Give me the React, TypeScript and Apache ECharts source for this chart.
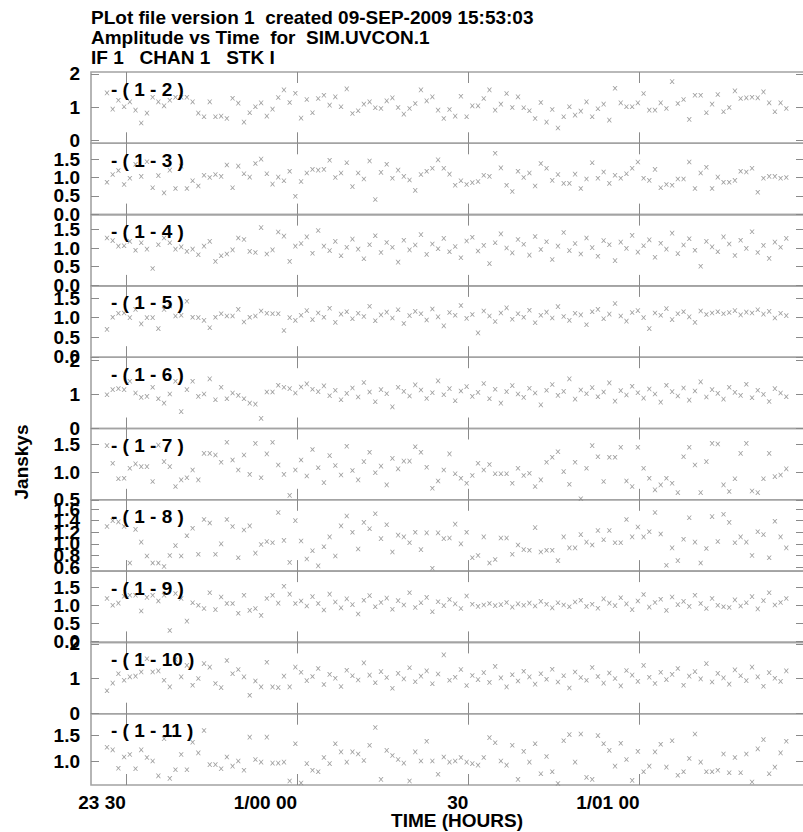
import React, { useEffect, useRef } from "react";
import * as echarts from "echarts";

// ---------- text ----------
const TITLE_LINES = [
  "PLot file version 1  created 09-SEP-2009 15:53:03",
  "Amplitude vs Time  for  SIM.UVCON.1",
  "IF 1   CHAN 1   STK I",
];
const Y_TITLE = "Janskys";
const X_TITLE = "TIME (HOURS)";

// ---------- time axis (minutes relative to 1/00 00) ----------
const X_MIN = -36.1;
const X_MAX = 88.8;
const X_TICKS = [-30, 0, 30, 60];
const X_TICK_LABELS = ["23 30", "1/00 00", "30", "1/01 00"];
const SAMPLE_START = -33.3; // first integration, one per minute
const SAMPLE_STEP = 1;

// ---------- panels ----------
const BASELINES = ["1 - 2", "1 - 3", "1 - 4", "1 - 5", "1 - 6", "1 - 7", "1 - 8", "1 - 9", "1 - 10", "1 - 11"];
const Y_MIN = [-0.09, -0.01, -0.02, -0.01, -0.01, 0.5, 0.53, -0.03, -0.01, 0.53];
const Y_MAX = [2.06, 1.93, 1.9, 1.81, 2.1, 1.79, 1.76, 1.95, 2.04, 1.93];
const Y_TICKS = [
  [0, 1, 2],
  [0, 0.5, 1, 1.5],
  [0, 0.5, 1, 1.5],
  [0, 0.5, 1, 1.5],
  [0, 1, 2],
  [0.5, 1, 1.5],
  [0.6, 0.8, 1, 1.2, 1.4, 1.6],
  [0, 0.5, 1, 1.5],
  [0, 1, 2],
  [1, 1.5],
];
const Y_DECIMALS = [0, 1, 1, 1, 0, 1, 1, 1, 0, 1];

// ---------- amplitudes (Jy), one per integration ----------
const AMP_1_2 = [
  1.43, 0.94, 1.21, 1.01, 1.16, 0.91, 0.52, 0.82, 1.3, 1.16,
  1.04, 1.21, 1.3, 1.3, 1.3, 1.16, 0.82, 0.71, 1.16, 0.71,
  0.73, 0.66, 1.27, 1.12, 0.55, 0.83, 1.01, 1.13, 0.73, 0.94,
  1.29, 1.52, 1.14, 1.42, 0.67, 1.23, 0.83, 1.26, 1.36, 1.06,
  1.31, 1.01, 1.55, 0.81, 0.89, 1.09, 1.16, 0.98, 0.96, 1.19,
  1.28, 0.99, 0.79, 0.96, 1.11, 1.52, 1.19, 1.31, 0.91, 0.66,
  0.93, 0.73, 1.33, 0.71, 1.04, 1.04, 1.26, 1.52, 0.91, 1.09,
  1.41, 0.99, 1.31, 0.98, 0.89, 0.66, 1.14, 0.55, 0.93, 0.37,
  0.71, 1.01, 0.76, 0.88, 1.16, 0.71, 0.95, 1.09, 0.61, 1.57,
  1.13, 1.01, 1.01, 1.13, 1.41, 0.91, 0.91, 1.13, 0.96, 1.77,
  1.11, 1.23, 0.63, 1.36, 1.36, 0.83, 1.09, 1.38, 0.86, 0.99,
  1.49, 1.26, 1.28, 1.3, 1.28, 1.46, 1.13, 0.86, 1.13, 0.96,
];
const AMP_1_3 = [
  0.87, 1.08, 1.19, 0.81, 0.98, 1.36, 1.03, 1.43, 0.72, 1.05,
  0.58, 1.2, 0.7, 1.31, 0.7, 0.91, 0.77, 1.06, 1.0, 1.08,
  1.03, 1.34, 0.72, 1.31, 1.1, 1.01, 1.38, 1.5, 1.1, 0.82,
  1.01, 0.91, 1.17, 0.49, 0.89, 1.12, 1.22, 1.2, 1.22, 1.47,
  1.0, 1.12, 1.4, 0.75, 1.12, 0.96, 1.45, 0.4, 1.14, 1.36,
  0.98, 1.2, 1.03, 0.93, 0.65, 1.08, 1.17, 1.25, 1.48, 1.25,
  1.09, 0.79, 0.91, 0.81, 0.86, 0.89, 1.06, 1.03, 1.66, 1.26,
  0.79, 0.62, 1.17, 1.0, 1.12, 0.77, 1.38, 1.25, 0.92, 1.08,
  0.84, 0.84, 1.09, 0.7, 0.96, 1.4, 0.98, 1.15, 0.84, 1.06,
  0.98, 1.1, 1.25, 1.42, 0.98, 0.92, 1.22, 0.72, 0.81, 0.79,
  0.96, 0.96, 1.42, 0.7, 1.12, 1.28, 0.7, 1.01, 0.87, 0.87,
  0.92, 1.17, 1.15, 1.25, 0.6, 0.98, 1.03, 1.03, 0.98, 1.0,
];
const AMP_1_4 = [
  1.27, 1.2, 1.05, 1.06, 1.18, 0.94, 1.14, 0.97, 0.45, 1.09,
  1.27, 1.14, 0.97, 1.03, 0.91, 0.97, 0.82, 1.05, 1.18, 0.64,
  0.79, 0.84, 0.95, 1.27, 1.23, 0.91, 0.88, 1.55, 0.84, 0.95,
  1.43, 1.32, 0.64, 1.05, 1.12, 1.3, 0.86, 1.47, 1.05, 0.93,
  1.18, 0.79, 1.02, 1.24, 0.97, 0.71, 1.09, 1.33, 0.88, 1.15,
  1.02, 0.62, 1.21, 0.95, 1.08, 1.36, 0.83, 1.11, 0.98, 1.26,
  0.9, 1.04, 0.74, 1.19, 1.29, 0.92, 1.07, 0.58, 1.14, 1.38,
  1.0, 0.87, 1.23, 1.1, 0.81, 1.31, 0.96, 1.17, 0.69, 1.05,
  1.42, 0.93, 1.12, 0.84, 1.27, 1.01, 0.78, 1.2, 1.09, 0.66,
  1.16, 0.99, 1.34, 0.89, 1.06, 1.22, 0.75, 1.13, 0.97, 1.4,
  0.85, 1.08, 1.25, 0.94, 0.51, 1.18, 1.03, 0.9, 1.3, 1.11,
  0.8, 1.21, 0.99, 1.44, 0.88, 1.07, 0.72, 1.16, 1.02, 1.26,
];
const AMP_1_5 = [
  0.7, 1.01, 1.11, 1.12, 1.0, 1.21, 0.84, 1.0, 1.0, 0.72,
  1.21, 1.3, 1.04, 1.06, 1.42, 1.01, 1.0, 0.93, 0.74, 1.01,
  1.1, 1.04, 1.04, 1.21, 0.89, 1.01, 1.04, 1.17, 1.11, 1.1,
  1.1, 0.67, 1.0, 0.93, 1.06, 1.18, 0.95, 1.12, 1.01, 1.24,
  0.88, 1.09, 1.15, 0.97, 1.11, 1.03, 1.29, 0.92, 1.07, 1.14,
  0.99, 1.2, 0.85, 1.05, 1.16, 1.1, 0.94, 1.22, 1.02, 0.79,
  1.13, 1.06, 1.31, 0.98, 1.08, 0.61, 1.17, 1.04, 0.9, 1.12,
  1.25, 0.96, 1.1, 1.01, 1.19, 0.87, 1.06, 1.14, 0.99, 1.28,
  1.03, 0.93, 1.11, 1.07, 0.82, 1.15, 1.21, 0.97, 1.09, 1.36,
  1.04, 0.91, 1.13, 1.18, 1.0, 0.72, 1.12, 1.06, 1.23, 0.95,
  1.1, 1.15, 1.02, 0.88, 1.17, 1.08, 1.12, 1.15, 1.1, 1.13,
  1.18, 1.07, 1.14, 1.12, 1.2, 1.09, 1.16, 0.99, 1.11, 1.05,
];
const AMP_1_6 = [
  0.99, 1.14, 1.17, 1.14, 1.39, 1.04, 0.91, 0.94, 1.21, 0.87,
  0.74, 1.01, 1.39, 0.49, 1.14, 1.39, 0.94, 1.01, 1.46, 0.84,
  1.21, 0.87, 1.04, 0.97, 0.87, 0.74, 0.71, 0.29, 1.07, 1.07,
  1.27, 1.21, 1.17, 1.04, 1.22, 1.31, 1.15, 1.08, 1.25, 0.96,
  1.12, 0.84, 1.03, 1.19, 0.92, 1.35, 1.07, 0.78, 1.14, 1.02,
  0.63, 1.21, 1.09, 0.95, 1.28, 1.13, 0.88, 1.05, 1.4, 0.99,
  1.17, 0.81, 1.1, 1.23, 0.94, 1.06, 1.32, 0.87, 1.15, 0.74,
  1.08, 1.26, 1.01, 0.91, 1.18, 1.04, 0.69, 1.12, 1.29, 0.97,
  1.09, 1.46, 0.86, 1.13, 1.02, 1.2, 0.93, 1.07, 1.34, 0.8,
  1.11, 0.98, 1.24, 1.05, 0.89, 1.16, 1.01, 0.77, 1.27, 1.08,
  0.95, 1.19, 0.83, 1.1, 1.37, 0.92, 1.14, 1.03, 0.86, 1.21,
  1.06, 0.97, 1.3, 0.9, 1.12, 1.0, 0.79, 1.17, 1.04, 0.93,
];
const AMP_1_7 = [
  1.48, 1.16, 0.88, 0.89, 1.07, 1.15, 1.1, 1.1, 0.83, 1.49,
  1.19, 1.1, 0.74, 0.86, 0.9, 1.04, 0.86, 1.34, 1.34, 1.31,
  1.18, 1.54, 1.22, 1.04, 1.31, 0.96, 1.52, 0.9, 1.33, 1.54,
  1.13, 0.96, 0.58, 1.04, 1.22, 0.93, 1.41, 1.08, 0.81, 1.3,
  1.12, 0.95, 1.47, 1.03, 0.86, 1.19, 1.36, 0.99, 1.11, 0.77,
  1.25, 1.06, 1.2, 1.2, 1.46, 1.36, 1.09, 0.71, 0.84, 1.04,
  1.33, 0.97, 0.89, 0.8, 0.94, 1.16, 1.04, 1.14, 0.97, 0.97,
  0.97, 0.8, 1.07, 0.94, 0.98, 0.74, 0.86, 1.18, 1.27, 1.37,
  1.01, 0.78, 1.18, 0.52, 1.07, 1.48, 1.28, 0.83, 1.27, 1.27,
  1.45, 0.84, 0.74, 1.45, 1.07, 0.89, 0.68, 0.77, 0.89, 0.8,
  0.63, 1.28, 1.45, 1.13, 0.63, 1.19, 1.52, 1.51, 0.77, 0.65,
  0.88, 1.34, 1.52, 0.66, 0.63, 0.88, 1.34, 0.92, 0.95, 1.06,
];
const AMP_1_8 = [
  1.3, 1.4, 1.38, 1.3, 0.67, 1.25, 1.03, 0.79, 0.67, 0.67,
  0.61, 0.8, 0.97, 0.79, 1.14, 1.27, 0.82, 1.42, 1.36, 0.82,
  1.0, 1.42, 1.3, 0.76, 1.24, 1.31, 0.84, 0.99, 1.04, 1.02,
  1.54, 1.06, 0.68, 1.4, 1.05, 0.74, 0.88, 0.62, 0.95, 1.12,
  0.79, 1.31, 1.48, 1.2, 0.91, 1.37, 1.26, 1.52, 1.09, 1.33,
  0.86, 1.15, 1.12, 1.02, 1.2, 0.9, 1.19, 0.58, 1.19, 1.09,
  1.1, 1.34, 1.0, 1.2, 0.76, 0.8, 1.12, 0.67, 0.73, 1.1,
  1.1, 0.82, 0.98, 0.9, 0.89, 1.28, 0.86, 0.89, 0.89, 0.71,
  1.12, 0.93, 0.93, 1.16, 1.03, 0.98, 1.23, 1.07, 1.23, 1.02,
  1.02, 1.42, 1.12, 1.29, 1.12, 1.21, 1.54, 1.17, 0.63, 0.93,
  0.71, 1.08, 1.45, 1.03, 0.67, 0.92, 1.47, 1.04, 1.51, 1.37,
  1.02, 1.12, 1.03, 0.8, 1.21, 1.16, 0.76, 1.39, 1.12, 0.93,
];
const AMP_1_9 = [
  1.19, 1.0, 1.06, 1.25, 1.28, 1.28, 0.84, 1.22, 1.28, 1.12,
  1.28, 0.3, 1.33, 1.19, 0.56, 1.07, 1.0, 0.91, 1.35, 0.88,
  1.23, 1.05, 1.05, 0.78, 1.28, 0.86, 0.91, 0.72, 1.19, 1.28,
  1.06, 1.53, 1.31, 1.05, 1.12, 0.98, 1.24, 1.05, 0.87, 1.31,
  1.09, 0.93, 1.18, 1.02, 0.76, 1.14, 1.27, 0.96, 1.08, 1.2,
  0.89, 1.13, 1.01, 1.35, 0.94, 1.07, 1.22, 0.82, 1.1, 0.99,
  1.16, 1.04, 0.91, 1.26, 1.03, 0.97, 1.01, 1.05, 0.99, 1.02,
  1.08, 0.95, 1.04, 1.0, 1.06, 0.98, 1.11, 1.03, 0.93, 1.07,
  1.01, 0.96, 1.09, 1.14, 0.97, 1.03, 0.92, 1.18, 1.06, 0.99,
  1.21, 1.04, 0.88, 1.12, 1.3, 0.95, 1.08, 1.17, 0.86, 1.23,
  1.02, 1.11, 0.97, 1.28, 1.05, 0.91, 1.19, 1.0, 0.96, 0.94,
  1.15, 0.98, 1.07, 1.24, 0.9, 1.13, 1.35, 1.01, 1.08, 1.19,
];
const AMP_1_10 = [
  0.65, 0.87, 1.14, 0.95, 1.05, 1.07, 1.19, 1.57, 1.19, 1.22,
  0.95, 0.76, 1.55, 1.05, 1.38, 0.81, 1.0, 1.43, 1.33, 0.86,
  0.74, 1.52, 1.14, 1.26, 1.05, 0.52, 0.93, 0.76, 1.47, 0.76,
  0.74, 1.07, 0.76, 1.33, 1.18, 0.94, 1.06, 1.29, 0.83, 1.12,
  1.01, 0.77, 1.24, 1.08, 0.96, 1.45, 1.1, 0.88, 1.2, 1.03,
  0.72, 1.15, 0.99, 1.31, 0.91, 1.07, 1.22, 0.85, 1.13, 1.68,
  0.95, 1.04, 1.26, 0.8, 1.09, 0.97, 1.17, 0.89, 1.35, 1.02,
  0.76, 1.11, 0.93, 1.21, 1.05, 0.84, 1.14, 0.98, 1.27, 0.9,
  1.08, 0.73, 1.19, 1.03, 0.95, 1.32, 1.06, 0.87, 1.16, 1.0,
  0.79, 1.23, 1.1, 0.92, 1.38, 1.04, 0.86, 1.18, 0.97, 1.12,
  1.29, 0.81, 1.07, 1.2, 0.99, 1.43, 0.9, 1.15, 1.02, 0.84,
  1.25, 1.08, 0.94, 1.33, 1.05, 0.78, 1.17, 1.01, 0.92, 1.22,
];
const AMP_1_11 = [
  1.27, 1.22, 0.86, 1.08, 1.13, 0.85, 1.22, 1.07, 1.0, 0.71,
  1.44, 0.66, 0.83, 1.13, 0.83, 1.37, 1.16, 1.6, 0.93, 0.93,
  0.85, 1.08, 0.9, 1.0, 0.82, 1.47, 1.03, 0.98, 1.47, 0.96,
  0.96, 0.98, 0.61, 1.34, 0.57, 0.95, 0.82, 0.79, 1.07, 0.95,
  1.34, 1.18, 0.98, 1.18, 1.14, 1.01, 1.31, 1.66, 0.64, 1.21,
  1.11, 1.03, 0.96, 0.61, 1.18, 1.0, 1.39, 1.0, 0.74, 1.08,
  0.98, 1.0, 1.07, 0.98, 0.95, 0.92, 1.07, 1.46, 1.36, 1.0,
  0.92, 1.31, 0.64, 1.19, 0.98, 1.34, 0.75, 1.09, 0.79, 0.56,
  1.4, 1.52, 0.98, 1.53, 0.68, 0.64, 1.5, 1.34, 1.21, 0.9,
  1.35, 1.03, 0.62, 1.19, 0.79, 0.9, 1.18, 1.33, 0.88, 1.4,
  0.72, 0.79, 1.05, 1.53, 0.98, 0.79, 0.79, 0.82, 1.14, 0.77,
  1.07, 0.77, 1.14, 0.59, 1.24, 1.42, 0.75, 0.88, 1.16, 1.39,
];
const AMPS: (number | null)[][] = [AMP_1_2, AMP_1_3, AMP_1_4, AMP_1_5, AMP_1_6, AMP_1_7, AMP_1_8, AMP_1_9, AMP_1_10, AMP_1_11];

// ---------- layout / style ----------
const PLOT_LEFT = 91;
const PLOT_TOP = 72;
const PANEL_H = 71.3;
const PLOT_W = 713;
const FONT = "Liberation Sans, Arial, Helvetica, sans-serif";
const BORDER = "#a3a3a3";
const TICK = "#8a8a8a";
const MARK = "#8a8a8a";
const X_SYMBOL = "path://M0,0L2,0L5,3.6L8,0L10,0L6.2,5L10,10L8,10L5,6.4L2,10L0,10L3.8,5Z";

function buildOption() {
  const grid: any[] = [];
  const xAxis: any[] = [];
  const yAxis: any[] = [];
  const series: any[] = [];
  const graphic: any[] = [];
  const n = BASELINES.length;
  const noLine = { show: false, onZero: false };

  BASELINES.forEach((bl, i) => {
    const top = PLOT_TOP + i * PANEL_H;
    const isLast = i === n - 1;
    grid.push({
      left: PLOT_LEFT, top, width: PLOT_W, height: PANEL_H,
      show: true, borderColor: BORDER, borderWidth: 1.6, backgroundColor: "transparent",
      containLabel: false, outerBoundsMode: "none",
    });
    const xTick = { show: true, inside: true, length: 11, customValues: X_TICKS, lineStyle: { color: TICK, width: 1 } };
    xAxis.push({
      type: "value", gridIndex: i, min: X_MIN, max: X_MAX, position: "bottom",
      axisLine: noLine, splitLine: { show: false }, axisTick: xTick,
      axisLabel: isLast
        ? {
            show: true, customValues: X_TICKS, margin: 8, align: "right",
            showMinLabel: true, showMaxLabel: true, hideOverlap: false,
            color: "#000", fontSize: 19, fontWeight: "bold", fontFamily: FONT,
            formatter: (v: number) => {
              const k = X_TICKS.findIndex((t) => Math.abs(t - v) < 1e-6);
              return k >= 0 ? X_TICK_LABELS[k] : "";
            },
          }
        : { show: false },
    });
    xAxis.push({
      type: "value", gridIndex: i, min: X_MIN, max: X_MAX, position: "top",
      axisLine: noLine, splitLine: { show: false }, axisTick: xTick, axisLabel: { show: false },
    });
    const yTick = { show: true, inside: true, length: 8, customValues: Y_TICKS[i], lineStyle: { color: TICK, width: 1 } };
    const dec = Y_DECIMALS[i];
    const ticks = Y_TICKS[i];
    // blank guard labels at the axis ends keep ECharts' min/max overlap check away from the real labels
    const labelValues = [Y_MIN[i] + 1e-4, ...ticks, Y_MAX[i] - 1e-4];
    yAxis.push({
      type: "value", gridIndex: i, min: Y_MIN[i], max: Y_MAX[i], position: "left",
      axisLine: noLine, splitLine: { show: false }, axisTick: yTick,
      axisLabel: {
        show: true, customValues: labelValues, margin: 11, hideOverlap: false,
        showMinLabel: false, showMaxLabel: false,
        color: "#000", fontSize: 19, fontWeight: "bold", fontFamily: FONT,
        formatter: (v: number) => (ticks.some((t) => Math.abs(t - v) < 1e-6) ? v.toFixed(dec) : ""),
      },
    });
    yAxis.push({
      type: "value", gridIndex: i, min: Y_MIN[i], max: Y_MAX[i], position: "right",
      axisLine: noLine, splitLine: { show: false }, axisTick: yTick, axisLabel: { show: false },
    });
    const data: number[][] = [];
    AMPS[i].forEach((v, k) => {
      if (v !== null && v !== undefined) data.push([SAMPLE_START + k * SAMPLE_STEP, v]);
    });
    series.push({
      type: "scatter", xAxisIndex: 2 * i, yAxisIndex: 2 * i, data,
      symbol: X_SYMBOL, symbolSize: [5, 4.6], itemStyle: { color: MARK }, silent: true,
    });
    graphic.push({
      type: "text", x: 111, y: top + 17, z: 10,
      style: {
        text: "- ( " + bl + " )", fill: "#000", font: `bold 19px ${FONT}`,
        align: "left", verticalAlign: "middle", textAlign: "left", textVerticalAlign: "middle",
      },
    });
  });

  const titleY = [17, 37, 57];
  TITLE_LINES.forEach((t, j) => {
    graphic.push({
      type: "text", x: PLOT_LEFT, y: titleY[j],
      style: { text: t, fill: "#000", font: `bold 19px ${FONT}`, align: "left", verticalAlign: "middle", textAlign: "left", textVerticalAlign: "middle" },
    });
  });
  graphic.push({
    type: "text", x: 21, y: 462, rotation: Math.PI / 2,
    style: { text: Y_TITLE, fill: "#000", font: `bold 19px ${FONT}`, align: "center", verticalAlign: "middle", textAlign: "center", textVerticalAlign: "middle" },
  });
  graphic.push({
    type: "text", x: 457, y: 820,
    style: { text: X_TITLE, fill: "#000", font: `bold 19px ${FONT}`, align: "center", verticalAlign: "middle", textAlign: "center", textVerticalAlign: "middle" },
  });

  return {
    animation: false,
    backgroundColor: "#ffffff",
    textStyle: { fontFamily: FONT },
    grid, xAxis, yAxis, series, graphic,
  };
}

export default function App() {
  const ref = useRef<HTMLDivElement>(null);
  useEffect(() => {
    if (!ref.current) return;
    const chart = echarts.init(ref.current, undefined, { renderer: "svg" });
    chart.setOption(buildOption() as any);
    return () => chart.dispose();
  }, []);
  return (
    <div
      ref={ref}
      style={{ position: "absolute", left: 0, top: 0, width: 803, height: 832, background: "#fff" }}
    />
  );
}
